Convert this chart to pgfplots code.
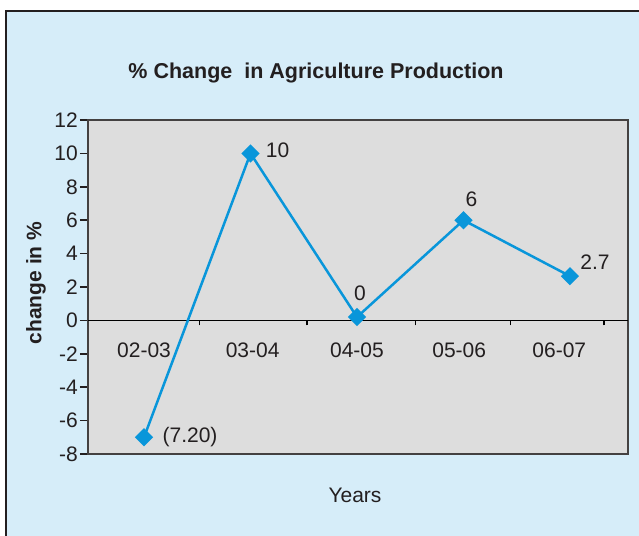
\documentclass[border=0pt]{standalone}
\usepackage{fontspec}
\setmainfont{Liberation Sans}
\usepackage{pgfplots}
\pgfplotsset{compat=1.18}
\definecolor{bgblue}{HTML}{D6EDF9}
\definecolor{plotgray}{HTML}{DDDDDD}
\definecolor{lineblue}{HTML}{0996DA}
\definecolor{txt}{HTML}{231F20}
\newcommand{\fs}[1]{\fontsize{#1}{#1}\selectfont}
\begin{document}
\begin{tikzpicture}
\useasboundingbox (0,0) rectangle (639pt,-535pt);
\draw[txt, line width=2pt, fill=bgblue] (6pt,-11pt) rectangle (660pt,-560pt);
\node[font=\fs{21.5}\bfseries, txt] at (316pt,-73pt) {\% Change\ \ in Agriculture Production};
\node[font=\fs{21}\bfseries, txt, rotate=90] at (36pt,-283pt) {change in \%};
\node[font=\fs{21}, txt] at (355pt,-495pt) {Years};
\begin{axis}[
  at={(88pt,-454pt)}, anchor=south west,
  width=540pt, height=334pt, scale only axis,
  xmin=-0.526, xmax=4.545, ymin=-8, ymax=12,
  ytick={-8,-6,...,12}, xtick=\empty, ytick pos=left,
  axis background/.style={fill=plotgray},
  axis line style={draw=txt!85, line width=1.5pt},
  tick align=outside, major tick length=8pt,
  tick style={txt, line width=1.5pt},
  yticklabel style={font=\fs{21}, txt, inner xsep=2pt},
  /pgf/number format/assume math mode=true,
]
\end{axis}
\begin{axis}[
  at={(88pt,-454pt)}, anchor=south west,
  width=540pt, height=334pt, scale only axis,
  xmin=-0.526, xmax=4.545, ymin=-8, ymax=12,
  axis x line=middle, axis y line=none,
  x axis line style={-, black, line width=1.5pt},
  xtick={0.52,1.53,2.55,3.44,4.32}, xticklabels={},
  tick align=outside, major tick length=5pt,
  tick style={black, line width=1.5pt},
  extra x ticks={0,1.02,2.0,2.96,3.9},
  extra x tick labels={02-03,03-04,04-05,05-06,06-07},
  extra x tick style={major tick length=0pt},
  xticklabel style={font=\fs{21}, txt, yshift=-19pt},
  clip=false,
]
\addplot[lineblue, line width=2.5pt, mark=square*, mark size=5.2pt, mark options={solid, rotate=45}]
  coordinates {(0,-7.0) (1,10) (2,0.2) (3,6) (4,2.65)};
\node[font=\fs{21}, txt] at (axis cs:1,10) [xshift=27pt, yshift=3pt] {10};
\node[font=\fs{21}, txt] at (axis cs:2,0.2) [xshift=3pt, yshift=24pt] {0};
\node[font=\fs{21}, txt] at (axis cs:3,6) [xshift=8pt, yshift=21pt] {6};
\node[font=\fs{21}, txt] at (axis cs:4,2.65) [xshift=25pt, yshift=14pt] {2.7};
\node[font=\fs{21}, txt] at (axis cs:0,-7.0) [xshift=46pt, yshift=0pt] {(7.20)};
\end{axis}
\end{tikzpicture}
\end{document}
